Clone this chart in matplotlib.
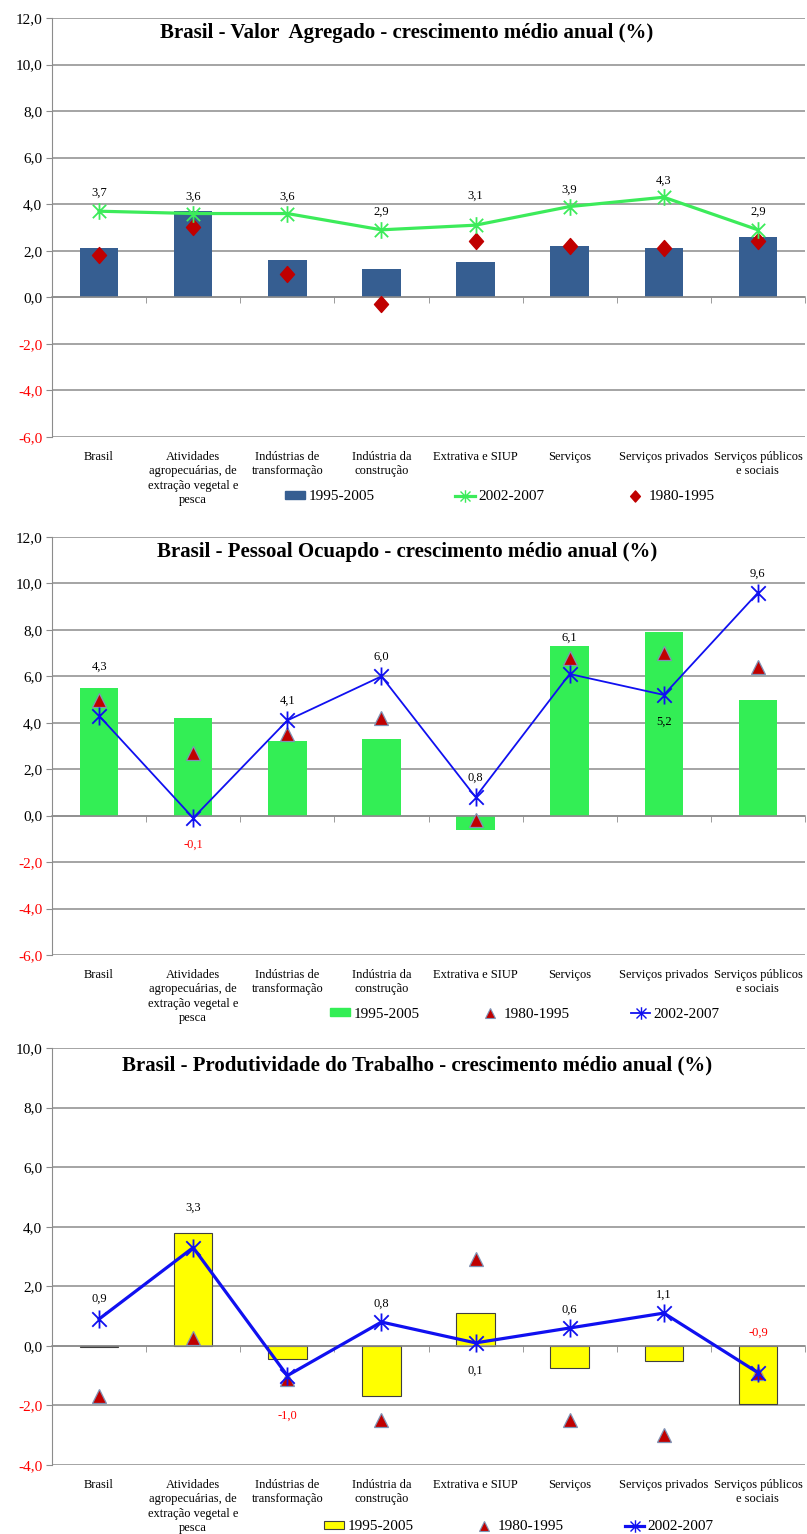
import numpy as np
import matplotlib.pyplot as plt
import matplotlib.transforms as mtransforms
from matplotlib.path import Path
from matplotlib.lines import Line2D
from matplotlib.patches import Patch

plt.rcParams['font.family'] = ['Liberation Serif', 'DejaVu Serif']

setores = ["Brasil",
           "Atividades\nagropecuárias, de\nextração vegetal e\npesca",
           "Indústrias de\ntransformação",
           "Indústria da\nconstrução",
           "Extrativa e SIUP",
           "Serviços",
           "Serviços privados",
           "Serviços públicos\ne sociais"]

# Valor agregado
va_95_05 = [2.1, 3.7, 1.6, 1.2, 1.5, 2.2, 2.1, 2.6]
va_02_07 = [3.7, 3.6, 3.6, 2.9, 3.1, 3.9, 4.3, 2.9]
va_80_95 = [1.8, 3.0, 1.0, -0.3, 2.4, 2.2, 2.1, 2.4]

# Pessoal ocupado
po_95_05 = [5.5, 4.2, 3.2, 3.3, -0.6, 7.3, 7.9, 5.0]
po_80_95 = [5.0, 2.7, 3.5, 4.2, -0.2, 6.8, 7.0, 6.4]
po_02_07 = [4.3, -0.1, 4.1, 6.0, 0.8, 6.1, 5.2, 9.6]

# Produtividade do trabalho
pt_95_05 = [-0.05, 3.8, -0.45, -1.7, 1.1, -0.75, -0.5, -1.95]
pt_80_95 = [-1.7, 0.25, -1.1, -2.5, 2.9, -2.5, -3.0, -0.9]
pt_02_07 = [0.9, 3.3, -1.0, 0.8, 0.1, 0.6, 1.1, -0.9]

# deslocamento vertical (px) dos rótulos da série 2002-2007
desl_va = [18, 17, 17, 18, 29, 17, 17, 18]
desl_po = [49, -27, 20, 20, 19, 36, -27, 19]
desl_pt = [20, 40, -40, 18, -28, 18, 18, 40]

GRID = '#8C8C8C'
x = np.arange(len(setores))

# marcador estrela do Excel (X + traço vertical)
estrela = Path([(0, -1), (0, 1), (-0.8, -0.8), (0.8, 0.8), (-0.8, 0.8), (0.8, -0.8)],
               [Path.MOVETO, Path.LINETO] * 3)
# losango um pouco mais alto que largo
losango = Path([(0, 1), (0.88, 0), (0, -1), (-0.88, 0), (0, 1)],
               [Path.MOVETO, Path.LINETO, Path.LINETO, Path.LINETO, Path.CLOSEPOLY])


def fmt(v):
    return f"{v:.1f}".replace('.', ',')


def base(ax, ymin, ymax, titulo, tx, ty, fs_tit):
    ax.set_xlim(-0.5, len(setores) - 0.5)
    ax.set_ylim(ymin, ymax)
    ticks = np.arange(ymin, ymax + 1, 2)
    ax.set_yticks(ticks)
    ax.set_yticklabels([fmt(t) for t in ticks], fontsize=11)
    for t, lab in zip(ticks, ax.get_yticklabels()):
        lab.set_color('red' if t < 0 else 'black')
    ax.tick_params(axis='y', length=4, color=GRID, pad=3)
    ax.yaxis.grid(True, color=GRID, lw=1.1)
    ax.set_axisbelow(True)
    for s in ['top', 'right']:
        ax.spines[s].set_visible(False)
    ax.spines['left'].set_color(GRID)
    ax.spines['bottom'].set_color(GRID)
    ax.spines['bottom'].set_linewidth(1.1)
    ax.spines['bottom'].set_position(('data', 0))
    ax.set_xticks([])
    ax.set_xticks(np.arange(-0.5, len(setores)), minor=True)
    ax.tick_params(axis='x', which='minor', length=4, color=GRID, labelbottom=False)
    tr = mtransforms.blended_transform_factory(ax.transData, ax.transAxes)
    for i, s in enumerate(setores):
        ax.text(i, -0.033, s, transform=tr, ha='center', va='top',
                fontsize=9, linespacing=1.28)
    ax.text(tx, ty, titulo, transform=ax.transAxes, ha='center', va='center',
            fontsize=fs_tit, fontweight='bold')


def rotulos(ax, vals, desl):
    for xi, v, d in zip(x, vals, desl):
        ax.annotate(fmt(v), (xi, v), xytext=(0, d * 0.72), textcoords='offset points',
                    ha='center', va='center', fontsize=9,
                    color='red' if v < 0 else 'black', zorder=6)


fig = plt.figure(figsize=(8.07, 15.34), dpi=100)
W, H = 807, 1534


def eixo(top, bottom):
    return fig.add_axes([52 / W, 1 - bottom / H, 753 / W, (bottom - top) / H])


# --- Valor agregado ---
ax1 = eixo(18, 437)
base(ax1, -6, 12, "Brasil - Valor  Agregado - crescimento médio anual (%)", 0.471, 0.965, 15)
ax1.bar(x, va_95_05, width=0.41, color='#365E91', zorder=2)
ax1.plot(x, va_02_07, color='#3CEB5A', lw=2.3, marker=estrela, ms=12,
         mec='#3CEB5A', mew=1.3, zorder=4)
ax1.plot(x, va_80_95, ls='none', marker=losango, ms=11.5, color='#C00000', zorder=3)
rotulos(ax1, va_02_07, desl_va)
h1 = [Patch(color='#365E91'),
      Line2D([], [], color='#3CEB5A', lw=2.3, marker=estrela, ms=9, mec='#3CEB5A'),
      Line2D([], [], ls='none', marker=losango, ms=8, color='#C00000')]
fig.legend(h1, ['1995-2005', '2002-2007', '1980-1995'], loc='center',
           bbox_to_anchor=(500 / W, 1 - 497 / H), ncol=3, frameon=False, fontsize=11,
           handlelength=1.3, handleheight=0.5, handletextpad=0.2, columnspacing=5.3)

# --- Pessoal ocupado ---
ax2 = eixo(537, 955)
base(ax2, -6, 12, "Brasil - Pessoal Ocuapdo - crescimento médio anual (%)", 0.471, 0.965, 15)
ax2.bar(x, po_95_05, width=0.41, color='#33EE55', zorder=2)
ax2.plot(x, po_80_95, ls='none', marker='^', ms=10, color='#C00000',
         mec='#7F93B5', mew=0.9, zorder=3)
ax2.plot(x, po_02_07, color='#1010F0', lw=1.3, marker=estrela, ms=13,
         mec='#1010F0', mew=1.3, zorder=4)
rotulos(ax2, po_02_07, desl_po)
h2 = [Patch(color='#33EE55'),
      Line2D([], [], ls='none', marker='^', ms=7, color='#C00000', mec='#7F93B5', mew=0.8),
      Line2D([], [], color='#1010F0', lw=1.3, marker=estrela, ms=9, mec='#1010F0')]
fig.legend(h2, ['1995-2005', '1980-1995', '2002-2007'], loc='center',
           bbox_to_anchor=(525 / W, 1 - 1014 / H), ncol=3, frameon=False, fontsize=11,
           handlelength=1.3, handleheight=0.5, handletextpad=0.2, columnspacing=4.0)

# --- Produtividade do trabalho ---
ax3 = eixo(1048, 1465)
base(ax3, -4, 10, "Brasil - Produtividade do Trabalho - crescimento médio anual (%)", 0.485, 0.957, 15)
ax3.bar(x, pt_95_05, width=0.41, color='#FFFF00', edgecolor='#404040', lw=0.8, zorder=2)
ax3.plot(x, pt_80_95, ls='none', marker='^', ms=10, color='#C00000',
         mec='#7F93B5', mew=0.9, zorder=3)
ax3.plot(x, pt_02_07, color='#1010F0', lw=2.3, marker=estrela, ms=13,
         mec='#1010F0', mew=1.3, zorder=4)
rotulos(ax3, pt_02_07, desl_pt)
h3 = [Patch(facecolor='#FFFF00', edgecolor='#404040', lw=0.8),
      Line2D([], [], ls='none', marker='^', ms=7, color='#C00000', mec='#7F93B5', mew=0.8),
      Line2D([], [], color='#1010F0', lw=2.3, marker=estrela, ms=9, mec='#1010F0')]
fig.legend(h3, ['1995-2005', '1980-1995', '2002-2007'], loc='center',
           bbox_to_anchor=(519 / W, 1 - 1527 / H), ncol=3, frameon=False, fontsize=11,
           handlelength=1.3, handleheight=0.5, handletextpad=0.2, columnspacing=4.0)

fig.savefig('out.png', dpi=100)
